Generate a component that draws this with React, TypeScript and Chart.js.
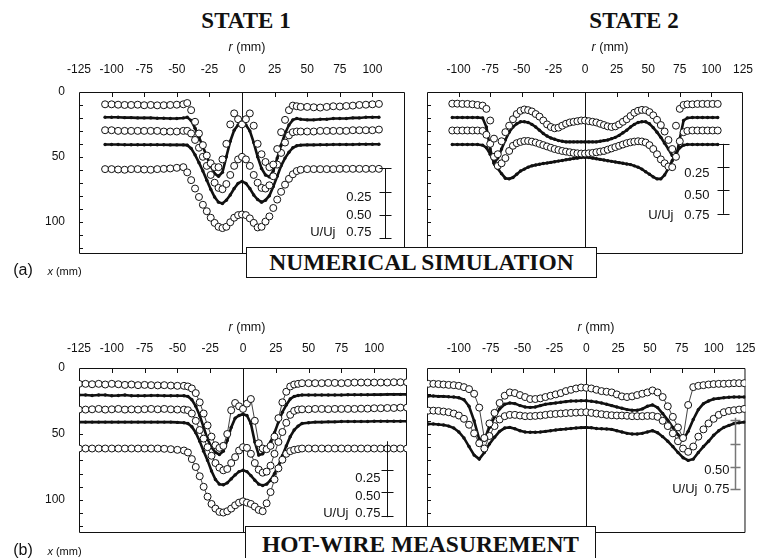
import React, { useEffect, useRef } from 'react';
import { Chart, registerables } from 'chart.js';

Chart.register(...registerables);

const FONT_SANS = "'Liberation Sans', Arial, Helvetica, sans-serif";
const FONT_SERIF = "'Liberation Serif', 'Times New Roman', Times, serif";
Chart.defaults.font.family = FONT_SANS;

// ---------- axes ----------
const X_TICKS = [-125, -100, -75, -50, -25, 0, 25, 50, 75, 100, 125];
const X_MARKS = [-100, -75, -50, -25, 25, 50, 75, 100];
const Y_LABELS = [0, 50, 100];
const Y_MARKS = [10, 20, 30, 40, 50, 60, 70, 80, 90, 100, 110, 120];

// ---------- (a) STATE 1, numerical simulation ----------
const rA = [-105, -100, -95, -90, -85, -80, -75, -70, -65, -60, -55, -50, -45,
  -42, -39, -36, -33, -30, -27, -24, -21, -18, -15, -12, -9, -6, -3, 0, 3, 6, 9, 12, 15, 18, 21, 24, 27, 30, 33, 36, 39, 42,
  45, 50, 55, 60, 65, 70, 75, 80, 85, 90, 95, 100, 105];
const a1 = [9.5, 9.5, 9.8, 10, 10, 9.8, 10.2, 10, 10.3, 10.2, 10, 9.8, 9.5,
  8.5, 14, 23, 32, 41, 49, 55, 58, 58, 52, 40, 25, 16.5, 21, 25, 21, 16.5, 26, 40, 48, 54, 58, 56, 44, 31, 21.5, 14, 10.5, 11,
  11.5, 11.5, 11.8, 12, 11.5, 11, 11.2, 10.8, 10.5, 10, 9.8, 9.5, 9.2];
const a2 = [19.5, 19.5, 19.5, 19.8, 19.8, 20, 20, 20, 20.2, 20.2, 20.5, 20.5, 20,
  19.5, 22, 28, 35, 42, 50, 57, 63, 65, 62, 50, 38, 29.5, 25.5, 23.5, 25.5, 30, 39, 50, 59, 64, 65.5, 61, 51, 41, 32, 25.5, 21.5, 20.5,
  21, 21.5, 21.5, 21, 21, 20.5, 20.5, 20.5, 20, 20, 19.5, 19.5, 19.5];
const a3 = [29.5, 29.5, 30, 30, 30, 30, 30, 30, 30, 30.5, 30.5, 30.5, 30,
  30, 32, 37, 43, 50, 57, 64, 70, 74, 75, 71, 64, 57, 52, 50, 52, 57, 64, 70, 74, 74.5, 72, 65, 56, 47, 39, 33.5, 31, 30.5,
  30.5, 30.5, 30.5, 30, 30, 30, 30, 30, 29.5, 29.5, 29.5, 29.5, 29];
const a4 = [40.5, 40.5, 40.5, 40.7, 40.7, 40.7, 40.7, 40.7, 40.7, 40.7, 40.8, 40.8, 40.8,
  41, 43.5, 48.5, 54.5, 61, 68, 75, 81, 85, 86, 83.5, 79.5, 74.5, 70.5, 69, 70.5, 74.5, 79.5, 83, 85, 83.5, 80, 73, 65, 57, 51, 46.5, 43, 41.5,
  41, 40.8, 40.8, 40.7, 40.7, 40.5, 40.5, 40.5, 40.5, 40.3, 40.3, 40.3, 40.3];
const a5 = [59.5, 59.5, 59.8, 60, 59.5, 59.5, 59.8, 60, 59.5, 59.3, 59, 58.5, 58,
  62, 68, 74.5, 81, 87, 92, 97, 101, 104, 105, 104, 100.5, 97, 95, 94.5, 95, 97.5, 101, 104.5, 104, 100, 96, 89.5, 83, 77, 71.5, 67, 63.5, 61,
  60, 59.5, 59.5, 59.5, 59.5, 59.5, 59.3, 59.3, 59.3, 59.3, 59.3, 59.3, 59.3];

// ---------- (a) STATE 2, numerical simulation ----------
const rB = [-105, -101, -97, -93, -89, -85,
  -81, -78, -75, -72, -69, -66, -63, -60, -57, -54, -51, -48, -45, -42, -39, -36, -33, -30, -27, -24, -21, -18, -15, -12, -9, -6, -3, 0,
  3, 6, 9, 12, 15, 18, 21, 24, 27, 30, 33, 36, 39, 42, 45, 48, 51, 54, 57, 60, 63, 66, 69, 72, 75, 78, 81,
  85, 89, 93, 97, 101, 105];
const b1 = [9, 9, 9.2, 9.2, 9.5, 10,
  10.5, 13, 22, 36, 48, 38, 31, 26, 21, 17, 14.5, 13.5, 14, 15, 17, 19, 22, 25, 27, 28, 27.5, 26, 24.5, 23.5, 23, 22.5, 22, 22,
  22.5, 23, 23.5, 24.5, 25.5, 26.5, 27, 26.5, 25, 23, 21, 18.5, 16, 14.5, 13.8, 14, 15.5, 18, 21.5, 25.5, 30.5, 37, 44, 26, 13, 10, 9.5,
  9.5, 9.2, 9.2, 9.2, 9.2, 9.2];
const b2 = [19.7, 19.7, 19.7, 19.7, 19.7, 19.7,
  20, 27, 44, 55, 51, 44, 37, 31, 27, 24.5, 23, 23, 23.5, 25, 27, 29.5, 32, 34, 35.5, 36.5, 37.5, 38, 38.5, 38.5, 38.5, 38.5, 38.5, 38.5,
  38.5, 38.5, 38.5, 38, 37.5, 37, 36, 35, 33.5, 31.5, 29.5, 27, 25, 23.5, 23, 23, 24.5, 27.5, 31, 35, 39.5, 44, 49, 51, 36, 22, 20,
  19.7, 19.7, 19.7, 19.7, 19.7, 19.7];
const b3 = [29.7, 29.7, 29.7, 29.7, 29.7, 29.7,
  30, 33, 40, 50, 57, 55, 51, 45.5, 41.5, 39.5, 38.5, 37.8, 37.8, 38.3, 39, 40, 41, 42, 43, 44, 44.8, 45.5, 46, 46.5, 47, 47.3, 47.5, 47.5,
  47.3, 47, 46.5, 46, 45.5, 44.5, 43.5, 42.5, 41.5, 40.5, 39.5, 38.8, 38.3, 38, 38.2, 39, 41, 44, 48, 52, 55, 57.5, 58, 50, 38, 31, 30,
  29.7, 29.7, 29.7, 29.7, 29.7, 29.7];
const b4 = [40.5, 40.5, 40.5, 40.5, 40.5, 40.5,
  41, 43, 48, 54, 59, 63, 66.5, 67, 66, 63.5, 61, 59.5, 58, 57, 56.3, 55.7, 55.2, 54.8, 54.3, 53.8, 53.3, 52.8, 52.3, 51.8, 51.3, 51, 50.5, 50.3,
  50.5, 51, 51.5, 52, 52.5, 53, 53.5, 54, 54.5, 55, 55.5, 56, 57, 58, 59.5, 61.5, 63.5, 65.5, 67, 67, 64, 59, 53, 47, 43, 41, 40.5,
  40.5, 40.5, 40.5, 40.5, 40.5, 40.5];

// ---------- (b) STATE 1, hot-wire measurement ----------
const rC = [-125, -120, -115, -110, -105, -100, -95, -90, -85, -80, -75, -70, -65, -60, -55, -50, -45,
  -42, -39, -36, -33, -30, -27, -24, -21, -18, -15, -12, -9, -6, -3, 0, 3, 6, 9, 12, 15, 18, 21, 24, 27, 30, 33, 36, 39, 42,
  45, 50, 55, 60, 65, 70, 75, 80, 85, 90, 95, 100, 105, 110, 115, 120, 125];
const c1 = [12, 12, 12.3, 12, 12.5, 12, 12.3, 12.8, 12.5, 13, 12.8, 13, 13.2, 13, 13.3, 13.5, 13.5,
  14, 15.5, 19, 26, 34.5, 43.5, 52, 58.5, 60.5, 59, 50, 32, 26.5, 29, 31, 27, 23.5, 40, 57, 61, 61.5, 59, 52, 38, 26, 18, 14, 12.5, 12,
  11.5, 11.5, 11.5, 11.5, 11.3, 11.3, 11.5, 11.3, 11, 11, 11, 11, 11, 11, 10.8, 10.8, 10.8];
const c2 = [20.5, 20.5, 20.8, 20.5, 20.5, 21, 20.8, 20.5, 21, 21, 21, 20.8, 20.8, 21, 21, 21, 21,
  21.5, 24, 29, 36, 45, 54, 60, 64, 65.5, 63, 55, 45, 38, 36, 35, 36, 42, 56, 66, 65, 61, 56, 49, 41, 33.5, 28, 23.5, 21.5, 20.8,
  20.5, 20.5, 20.5, 20.5, 20.5, 20.5, 20.5, 20.3, 20.3, 20.3, 20.3, 20.2, 20.2, 20, 20, 20, 20];
const c3 = [31.5, 31.5, 31.3, 31, 31.5, 31.3, 31, 31.5, 31.3, 31.5, 31.2, 31, 31.3, 31, 31.3, 31.5, 31.5,
  32, 34.5, 40, 47, 53.5, 60, 66.5, 72, 75.5, 77.5, 76.5, 72, 67.5, 62.5, 60, 60.5, 65, 72, 77, 79.3, 78.5, 74, 65, 56, 48.5, 41.5, 35.5, 32.5, 31.5,
  31.3, 31.3, 31, 31, 31.2, 31, 31, 31, 31, 30.8, 30.8, 30.5, 30.5, 30.3, 30.3, 30, 30];
const c4 = [41, 41, 41, 41, 41, 41, 41, 41, 41, 41, 41, 41, 41, 41, 41, 41.2, 41.5,
  42, 44.5, 49, 55.5, 63, 70, 78, 84.5, 88, 88.5, 87, 84, 81, 78.5, 77.5, 78.5, 81.5, 85, 88, 89, 88, 85, 80, 74, 66.5, 59, 52, 47, 44,
  42, 41.5, 41, 41, 40.8, 40.8, 40.5, 40.5, 40.5, 40.5, 40.5, 40.3, 40.3, 40.3, 40.3, 40.3, 40.3];
const c5 = [61, 61, 61, 61, 61, 61, 61, 61, 61, 61, 61, 61, 61, 61.2, 61.5, 62, 62.5,
  64, 69, 75, 82, 90, 97.5, 103, 106.5, 109, 109.5, 108.5, 106.5, 104, 102, 101, 102, 103, 105, 107.5, 108.5, 102.5, 94, 84.5, 76, 69.5, 65, 63, 62, 61.5,
  61, 61, 61, 61, 61, 61, 61, 61, 61, 61, 61, 61, 61, 61, 61, 61, 61];

// ---------- (b) STATE 2, hot-wire measurement ----------
const rD = [-124, -120, -116, -112, -108, -104, -100, -96, -92, -88, -84, -80, -76, -72, -68, -64, -60, -56, -52, -48, -44, -40, -36, -32, -28, -24, -20, -16, -12, -8, -4,
  0, 4, 8, 12, 16, 20, 24, 28, 32, 36, 40, 44, 48, 52, 56, 60, 64, 68, 72, 76, 80, 84, 88, 92, 96, 100, 104, 108, 112, 116, 120, 124];
const d1 = [12, 12, 12.2, 12.5, 12.8, 13, 13.5, 14.5, 16, 19.5, 30, 53, 42, 34, 26.5, 21, 18.5, 19, 20.5, 22, 23.5, 23.5, 23, 22, 21, 20, 19, 17.5, 16.5, 15.5, 14.8,
  15, 15.5, 16.5, 17.5, 18, 18.5, 20, 21.5, 22, 21.5, 20.5, 19.5, 18.5, 17, 18.5, 22, 29, 37, 45, 53, 28, 14.5, 13.5, 13, 12.5, 12.2, 12, 12, 11.8, 11.5, 11.5, 11.5];
const d2 = [21.2, 21.2, 21.5, 21.5, 21.8, 22, 22.5, 24, 29, 40, 54, 55, 45, 37, 31, 27.5, 26.5, 27, 28.5, 29.5, 29.8, 29.5, 28.5, 27.5, 27, 26.5, 26, 25.5, 25, 25, 24.8,
  24.8, 25.2, 25.8, 26.5, 27.5, 28.5, 29.5, 30.5, 31.5, 32, 32, 31, 29, 28, 30, 34.5, 39.5, 45, 50.5, 54.5, 48, 39, 31.5, 27, 25, 23.5, 23, 22.5, 22.2, 22, 22, 22];
const d3 = [32.3, 32.3, 32.5, 33, 33.5, 34.5, 36, 38.5, 43, 49.5, 57, 61, 51.5, 44, 39, 36.5, 35.5, 35.5, 36, 36.5, 36.5, 36.3, 36, 35.5, 35, 34.8, 34.5, 34.2, 34, 33.8, 33.6,
  33.5, 34, 34.5, 35, 35.5, 35.8, 36, 36, 36.2, 36.5, 36.5, 36.5, 36.3, 36.3, 37, 40, 44, 49.5, 55.5, 61, 63.5, 59.5, 52, 46.5, 42, 38.5, 35.5, 33.5, 32.5, 32, 31.5, 31];
const d4 = [42.4, 42.4, 42.8, 43.2, 44, 45.5, 48.5, 53, 59.5, 66, 69, 64, 57.5, 52.5, 48, 45.5, 45, 46, 47.5, 48.5, 48.7, 48.7, 48.5, 48, 47.5, 47, 46.5, 46.2, 45.8, 45.5, 45.2,
  45, 45.3, 45.8, 46, 46.2, 46.5, 47.5, 48.5, 49.5, 50, 50, 49.5, 48.5, 47.5, 49, 52, 55.5, 59.5, 64, 68, 70, 69, 64, 59.5, 55.5, 51, 47.5, 45, 43.5, 42, 41.5, 41];

// ---------- panel layout ----------
interface BarLabel { text: string; y: number; dx: number }
interface Bar { r: number; y0: number; y1: number; ticks: number[]; half: number; color: string; width: number; labels: BarLabel[] }
interface PanelCfg {
  key: string; left: number; top: number; width: number; height: number;
  yAxisWidth: number; xAxisHeight: number; xLabelPad: number; padRight: number; padBottom: number;
  hiddenX: number; showY: boolean; measured: boolean; r: number[]; series: number[][]; bar: Bar;
}

const PAD_B = 26;

const PANELS: PanelCfg[] = [
  {
    key: 'a1', left: 0, top: 50, width: 420, height: 204 + PAD_B, yAxisWidth: 79, xAxisHeight: 42, xLabelPad: 15,
    padRight: 13, padBottom: PAD_B, hiddenX: 125, showY: true, measured: false, r: rA, series: [a1, a2, a3, a4, a5],
    bar: {
      r: 110, y0: 59, y1: 113, ticks: [59, 77.2, 95.1, 113], half: 6, color: '#111', width: 1,
      labels: [{ text: '0.25', y: 81, dx: -14 }, { text: '0.50', y: 95, dx: -14 }, { text: '0.75', y: 108.5, dx: -14 }, { text: 'U/Uj', y: 108.5, dx: -50 }],
    },
  },
  {
    key: 'a2', left: 400, top: 50, width: 368, height: 204 + PAD_B, yAxisWidth: 27, xAxisHeight: 42, xLabelPad: 15,
    padRight: 13, padBottom: PAD_B, hiddenX: -125, showY: false, measured: false, r: rB, series: [b1, b2, b3, b4],
    bar: {
      r: 109.5, y0: 40, y1: 94, ticks: [40, 57.9, 75.4, 94], half: 6, color: '#111', width: 1,
      labels: [{ text: '0.25', y: 62.7, dx: -14 }, { text: '0.50', y: 79.5, dx: -14 }, { text: '0.75', y: 94.9, dx: -14 }, { text: 'U/Uj', y: 94.9, dx: -50 }],
    },
  },
  {
    key: 'b1', left: 0, top: 326, width: 420, height: 207 + PAD_B, yAxisWidth: 79, xAxisHeight: 42, xLabelPad: 12.5,
    padRight: 13, padBottom: PAD_B, hiddenX: 125, showY: true, measured: true, r: rC, series: [c1, c2, c3, c4, c5],
    bar: {
      r: 109.5, y0: 55.5, y1: 113, ticks: [77, 94, 112], half: 6, color: '#111', width: 1,
      labels: [{ text: '0.25', y: 83.9, dx: -7 }, { text: '0.50', y: 97.2, dx: -7 }, { text: '0.75', y: 110.4, dx: -7 }, { text: 'U/Uj', y: 110.4, dx: -39 }],
    },
  },
  {
    key: 'b2', left: 400, top: 326, width: 368, height: 207 + PAD_B, yAxisWidth: 27, xAxisHeight: 42, xLabelPad: 12.5,
    padRight: 13, padBottom: PAD_B, hiddenX: -125, showY: false, measured: true, r: rD, series: [d1, d2, d3, d4],
    bar: {
      r: 116.4, y0: 37.7, y1: 92, ticks: [39.6, 57.8, 75, 91.4], half: 5, color: '#777', width: 1.5,
      labels: [{ text: '0.50', y: 77.5, dx: -6 }, { text: '0.75', y: 91.9, dx: -6 }, { text: 'U/Uj', y: 91.9, dx: -38 }],
    },
  },
];

function makeDecor(cfg: PanelCfg) {
  return {
    id: 'decor_' + cfg.key,
    beforeDatasetsDraw(chart: any) {
      const { ctx, chartArea: a } = chart;
      const xs = chart.scales.x;
      const ys = chart.scales.y;
      ctx.save();
      ctx.strokeStyle = '#111';
      ctx.lineWidth = 1;
      ctx.beginPath();
      ctx.rect(a.left + 0.5, a.top + 0.5, a.right - a.left - 1, a.bottom - a.top - 1);
      const x0 = Math.round(xs.getPixelForValue(0)) + 0.5;
      ctx.moveTo(x0, a.top);
      ctx.lineTo(x0, a.bottom);
      for (const v of X_MARKS) {
        const px = Math.round(xs.getPixelForValue(v)) + 0.5;
        ctx.moveTo(px, a.top);
        ctx.lineTo(px, a.top + 5);
      }
      for (const v of Y_MARKS) {
        const py = Math.round(ys.getPixelForValue(v)) + 0.5;
        ctx.moveTo(a.left, py);
        ctx.lineTo(a.left + 4, py);
      }
      ctx.stroke();
      ctx.restore();
    },
    afterDatasetsDraw(chart: any) {
      const { ctx } = chart;
      const xs = chart.scales.x;
      const ys = chart.scales.y;
      const b = cfg.bar;
      const px = Math.round(xs.getPixelForValue(b.r)) + 0.5;
      ctx.save();
      ctx.strokeStyle = b.color;
      ctx.lineWidth = b.width;
      ctx.beginPath();
      ctx.moveTo(px, ys.getPixelForValue(b.y0));
      ctx.lineTo(px, ys.getPixelForValue(b.y1));
      for (const t of b.ticks) {
        const py = Math.round(ys.getPixelForValue(t)) + 0.5;
        ctx.moveTo(px - b.half, py);
        ctx.lineTo(px + b.half, py);
      }
      ctx.stroke();
      ctx.fillStyle = '#111';
      ctx.font = '13px ' + FONT_SANS;
      ctx.textAlign = 'right';
      ctx.textBaseline = 'middle';
      for (const l of b.labels) {
        ctx.fillText(l.text, px + l.dx, ys.getPixelForValue(l.y));
      }
      ctx.restore();
    },
  };
}

function Panel({ cfg }: { cfg: PanelCfg }) {
  const ref = useRef<HTMLCanvasElement>(null);
  useEffect(() => {
    const canvas = ref.current;
    if (!canvas) return;
    const datasets = cfg.series.map((vals, i) => {
      const data = cfg.r.map((x, j) => ({ x, y: vals[j] }));
      if (i % 2 === 0) {
        return {
          data,
          showLine: cfg.measured,
          borderColor: '#111',
          borderWidth: cfg.measured ? 0.8 : 0,
          pointRadius: 3.5,
          pointBorderWidth: 1,
          pointBackgroundColor: '#fff',
          pointBorderColor: '#111',
          order: 0,
        };
      }
      return {
        data,
        showLine: true,
        borderColor: '#111',
        borderWidth: 2.6,
        pointRadius: 1.7,
        pointBorderWidth: 0,
        pointBackgroundColor: '#111',
        pointBorderColor: '#111',
        order: 1,
      };
    });
    const chart = new Chart(canvas, {
      type: 'scatter',
      data: { datasets: datasets as any },
      options: {
        animation: false,
        responsive: false,
        maintainAspectRatio: false,
        devicePixelRatio: 1,
        events: [],
        layout: { padding: { left: 0, top: 0, right: cfg.padRight, bottom: cfg.padBottom } },
        plugins: { legend: { display: false }, tooltip: { enabled: false } },
        scales: {
          x: {
            type: 'linear',
            position: 'top',
            min: -125,
            max: 125,
            afterBuildTicks: (s: any) => { s.ticks = X_TICKS.map((v) => ({ value: v })); },
            afterFit: (s: any) => { s.height = cfg.xAxisHeight; },
            grid: { display: false, drawTicks: false },
            border: { display: false },
            ticks: {
              padding: cfg.xLabelPad,
              color: '#111',
              font: { family: FONT_SANS, size: 12 },
              maxRotation: 0,
              autoSkip: false,
              callback: (v: any) => (Number(v) === cfg.hiddenX ? '' : String(v)),
            },
          },
          y: {
            type: 'linear',
            position: 'left',
            reverse: true,
            min: 0,
            max: 125,
            afterBuildTicks: (s: any) => { s.ticks = Y_LABELS.map((v) => ({ value: v })); },
            afterFit: (s: any) => { s.width = cfg.yAxisWidth; },
            grid: { display: false, drawTicks: false },
            border: { display: false },
            ticks: {
              display: cfg.showY,
              padding: 14,
              color: '#111',
              font: { family: FONT_SANS, size: 12 },
              callback: (v: any) => String(v),
            },
          },
        },
      } as any,
      plugins: [makeDecor(cfg)],
    });
    return () => chart.destroy();
  }, [cfg]);
  return (
    <canvas
      ref={ref}
      width={cfg.width}
      height={cfg.height}
      style={{ position: 'absolute', left: cfg.left, top: cfg.top, width: cfg.width, height: cfg.height, zIndex: 1 }}
    />
  );
}

function Txt({ x, y, size, serif, bold, children }: { x: number; y: number; size: number; serif?: boolean; bold?: boolean; children: React.ReactNode }) {
  return (
    <div
      style={{
        position: 'absolute', left: x, top: y, transform: 'translate(-50%, -50%)',
        fontFamily: serif ? FONT_SERIF : FONT_SANS, fontSize: size, fontWeight: bold ? 700 : 400,
        lineHeight: 1, whiteSpace: 'nowrap', color: '#111', zIndex: 2,
      }}
    >
      {children}
    </div>
  );
}

function Box({ left, top, width, height, text }: { left: number; top: number; width: number; height: number; text: string }) {
  return (
    <div
      style={{
        position: 'absolute', left, top, width, height, boxSizing: 'border-box',
        border: '1.5px solid #111', background: '#fff', display: 'flex', alignItems: 'center',
        justifyContent: 'center', fontFamily: FONT_SERIF, fontWeight: 700, fontSize: 23.5,
        color: '#111', whiteSpace: 'nowrap', zIndex: 3,
      }}
    >
      {text}
    </div>
  );
}

export default function App() {
  return (
    <div style={{ position: 'fixed', left: 0, top: 0, width: 768, height: 558, background: '#fff', overflow: 'hidden' }}>
      {PANELS.map((p) => <Panel key={p.key} cfg={p} />)}
      <Txt x={246} y={20} size={23} serif bold>STATE 1</Txt>
      <Txt x={634} y={20} size={23} serif bold>STATE 2</Txt>
      <Txt x={247} y={47} size={12.5}><i>r</i> (mm)</Txt>
      <Txt x={610} y={47} size={12.5}><i>r</i> (mm)</Txt>
      <Txt x={247} y={327} size={12.5}><i>r</i> (mm)</Txt>
      <Txt x={596} y={327} size={12.5}><i>r</i> (mm)</Txt>
      <Txt x={23} y={270} size={16}>(a)</Txt>
      <Txt x={64.5} y={271} size={11}><i>x</i> (mm)</Txt>
      <Txt x={23} y={550} size={16}>(b)</Txt>
      <Txt x={64.5} y={551} size={11}><i>x</i> (mm)</Txt>
      <Box left={246} top={247} width={351} height={31} text="NUMERICAL SIMULATION" />
      <Box left={245} top={526} width={351} height={36} text="HOT-WIRE MEASUREMENT" />
    </div>
  );
}
